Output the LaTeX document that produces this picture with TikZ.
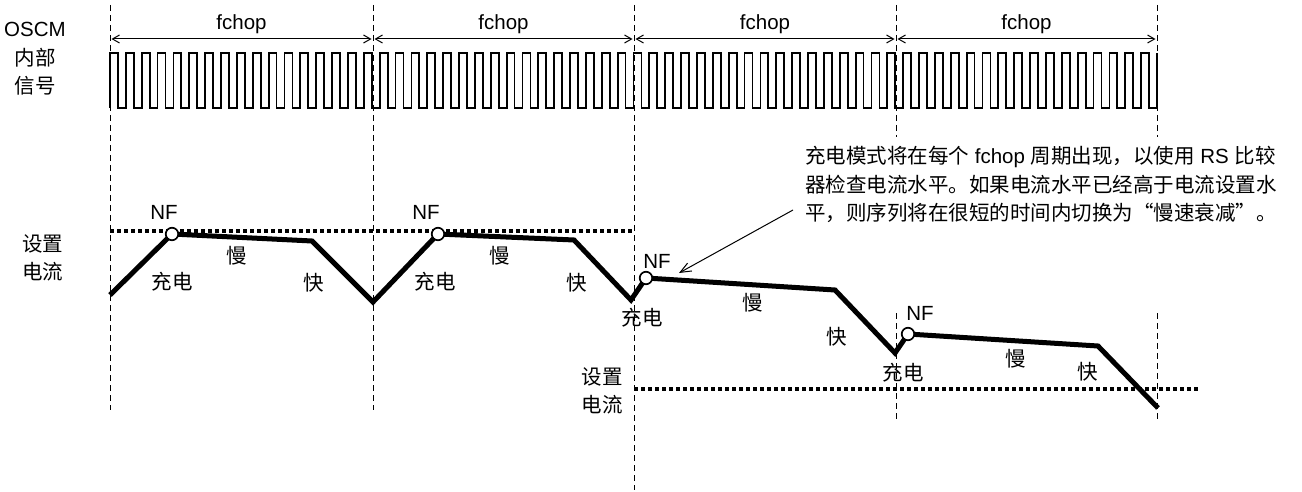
\documentclass[tikz,border=0pt]{standalone}
\usepackage{fontspec}
\setmainfont{Liberation Sans}
\newfontfamily\cjk{Noto Sans CJK SC}
\usetikzlibrary{arrows.meta}
\tikzset{
  lab/.style={font=\fontsize{20.5}{24}\selectfont, inner sep=0pt},
  zh/.style={font=\fontsize{20.5}{24}\selectfont\cjk, inner sep=0pt},
  vguide/.style={line width=1pt, dash pattern=on 6pt off 4pt},
  setline/.style={line width=3.5pt, dash pattern=on 3.5pt off 3.5pt},
  current/.style={line width=5pt, line join=miter},
  clk/.style={line width=1.8pt},
  nfpt/.style={circle, draw, line width=1.7pt, fill=white, minimum size=12.5pt, inner sep=0pt},
  periodarrow/.style={line width=1pt, {Straight Barb[length=7pt,width=8pt]}-{Straight Barb[length=7pt,width=8pt]}, shorten <=1.5pt, shorten >=1.5pt},
  notearrow/.style={line width=1pt, -{Straight Barb[length=11pt,width=9pt]}},
}
\newcommand{\oq}{\makebox[20.5pt][r]{“}}
\newcommand{\cq}{\makebox[20.5pt][l]{”}}
\begin{document}
\begin{tikzpicture}[x=1pt,y=-1pt]
\useasboundingbox (0,0) rectangle (1302,492);

% vertical guides
\draw[vguide] (110,5) -- (110,410);
\draw[vguide] (373,5) -- (373,410);
\draw[vguide] (634,5) -- (634,490);
\draw[vguide] (896,5) -- (896,137);
\draw[vguide] (896,313) -- (896,420);
\draw[vguide] (1157,5) -- (1157,137);
\draw[vguide] (1157,313) -- (1157,420);

% period arrows
\coordinate (g0) at (110,39);
\coordinate (g1) at (373,39);
\coordinate (g2) at (634,39);
\coordinate (g3) at (896,39);
\coordinate (g4) at (1157,39);
\draw[periodarrow] (g0) -- (g1);
\draw[periodarrow] (g1) -- (g2);
\draw[periodarrow] (g2) -- (g3);
\draw[periodarrow] (g3) -- (g4);
\node[lab] (f1) at (241.5,24) {fchop};
\node[lab] (f2) at (503.5,24) {fchop};
\node[lab] (f3) at (765,24) {fchop};
\node[lab] (f4) at (1026.5,24) {fchop};

% clock
\draw[clk] (110,108) foreach \i in {1,...,66} { -- ++(0,-55) -- ++(7.932,0) -- ++(0,55) -- ++(7.932,0) } -- ++(0,-55);

\node[lab] (osc) at (35,29) {OSCM};
\node[zh] (osc2) at (35,58) {内部};
\node[zh] (osc3) at (35,86) {信号};

% set current levels
\draw[setline] (110,231) -- (634,231);
\draw[setline] (634,389) -- (1200,389);
\node[zh] (set1a) at (43,244) {设置};
\node[zh] (set1b) at (43,272) {电流};
\node[zh] (set2a) at (602,377) {设置};
\node[zh] (set2b) at (602,405) {电流};

% current waveform
\coordinate (c0) at (110,295);
\coordinate (p1) at (172,234);
\coordinate (c1) at (312,241);
\coordinate (c2) at (373,302);
\coordinate (p2) at (438,234);
\coordinate (c3) at (574,240);
\coordinate (c4) at (631,300);
\coordinate (p3) at (646,278);
\coordinate (c5) at (835,290);
\coordinate (c6) at (895,353);
\coordinate (p4) at (908,334);
\coordinate (c7) at (1098,346);
\coordinate (c8) at (1158,408);
\draw[current] (c0) -- (p1) -- (c1) -- (c2) -- (p2) -- (c3) -- (c4) -- (p3) -- (c5) -- (c6) -- (p4) -- (c7) -- (c8);
\node[nfpt] (nf1) at (p1) {};
\node[nfpt] (nf2) at (p2) {};
\node[nfpt] (nf3) at (p3) {};
\node[nfpt] (nf4) at (p4) {};
\node[lab] (nft1) at (164,212) {NF};
\node[lab] (nft2) at (426,212) {NF};
\node[lab] (nft3) at (657,261) {NF};
\node[lab] (nft4) at (920,313) {NF};

% phase labels
\node[zh] (ch1) at (172,282) {充电};
\node[zh] (sl1) at (237,256) {慢};
\node[zh] (fa1) at (314,283) {快};
\node[zh] (ch2) at (435,282) {充电};
\node[zh] (sl2) at (500,256) {慢};
\node[zh] (fa2) at (577,283) {快};
\node[zh] (ch3) at (642,318) {充电};
\node[zh] (sl3) at (753,303) {慢};
\node[zh] (fa3) at (837,337) {快};
\node[zh] (ch4) at (903,373) {充电};
\node[zh] (sl4) at (1016,359) {慢};
\node[zh] (fa4) at (1088,372) {快};

% annotation
\node[lab, anchor=west] (n1) at (805,157) {{\cjk 充电模式将在每个} fchop {\cjk 周期出现，以使用} RS {\cjk 比较}};
\node[zh, anchor=west] (n2) at (805,185) {器检查电流水平。如果电流水平已经高于电流设置水};
\node[zh, anchor=west] (n3) at (805,213) {平，则序列将在很短的时间内切换为\oq 慢速衰减\cq 。};
\coordinate (note) at (793,210);
\coordinate (tip) at (679,273);
\draw[notearrow] (note) -- (tip);
\end{tikzpicture}
\end{document}
